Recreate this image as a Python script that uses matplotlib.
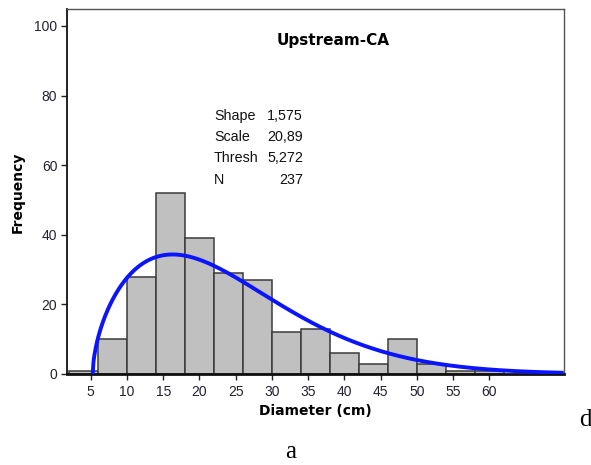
import numpy as np
import matplotlib
matplotlib.use("Agg")
import matplotlib.pyplot as plt

# Histogram data (bin edges in cm, counts)
bin_edges = [2, 6, 10, 14, 18, 22, 26, 30, 34, 38, 42, 46, 50, 54, 58, 62]
counts = [1, 10, 28, 52, 39, 29, 27, 12, 13, 6, 3, 10, 3, 1, 1]

# Fitted 3-parameter Weibull (as printed on the chart)
shape = 1.575
scale = 20.89
thresh = 5.272
n_obs = 237

xticks = [5, 10, 15, 20, 25, 30, 35, 40, 45, 50, 55, 60]
yticks = [0, 20, 40, 60, 80, 100]

fig = plt.figure(figsize=(5.91, 4.65), dpi=100)
ax = fig.add_axes([0.1134, 0.1957, 0.8404, 0.786])

edges = np.array(bin_edges, dtype=float)
widths = np.diff(edges)
ax.bar(edges[:-1], counts, width=widths, align='edge', color='#c0c0c0',
       edgecolor='#3a3a3a', linewidth=1.1, zorder=2)

xmin, xmax = 1.73, 70.26
bw = widths[0]
xs = np.linspace(thresh, xmax, 600)
z = (xs - thresh) / scale
pdf = (shape / scale) * z ** (shape - 1) * np.exp(-z ** shape)
ax.plot(xs, pdf * n_obs * bw, color='#0a14ff', linewidth=2.8, zorder=3,
        solid_capstyle='butt')

ax.set_xlim(xmin, xmax)
ax.set_ylim(0, 105)
ax.set_xticks(xticks)
ax.set_yticks(yticks)
tick_font = dict(family='Liberation Sans', size=10)
ax.set_xticklabels([str(t) for t in xticks], fontdict=tick_font, color='#222233')
ax.set_yticklabels([str(t) for t in yticks], fontdict=tick_font, color='#222233')
ax.tick_params(axis='both', direction='out', length=4, width=1, color='#222222', pad=3)
ax.tick_params(axis='x', pad=4)

for s in ['top', 'right']:
    ax.spines[s].set_color('#555555')
    ax.spines[s].set_linewidth(1.0)
ax.spines['left'].set_color('#111111')
ax.spines['left'].set_linewidth(1.3)
ax.spines['bottom'].set_color('#111111')
ax.spines['bottom'].set_linewidth(2.0)

# Labels
fig.text(315 / 591, 1 - 411 / 465, 'Diameter (cm)', ha='center', va='center',
         fontsize=10, fontweight='bold', family='DejaVu Sans')
fig.text(18 / 591, 1 - 192 / 465, 'Frequency', ha='center', va='center',
         rotation=90, fontsize=10, fontweight='bold', family='DejaVu Sans')
fig.text(333 / 591, 1 - 40 / 465, 'Upstream-CA', ha='center', va='center',
         fontsize=11, fontweight='bold', family='DejaVu Sans')

# Stats box
labels = ['Shape', 'Scale', 'Thresh', 'N']
values = ['1,575', '20,89', '5,272', '237']
rows_y = [116, 137, 158, 180]
for lab, val, yy in zip(labels, values, rows_y):
    fig.text(214 / 591, 1 - yy / 465, lab, ha='left', va='center',
             fontsize=10.3, family='Liberation Sans', color='#111111')
    fig.text(303 / 591, 1 - yy / 465, val, ha='right', va='center',
             fontsize=10.3, family='Liberation Sans', color='#111111')

fig.text(291 / 591, 1 - 452 / 465, 'a', ha='center', va='center',
         fontsize=18, family='Liberation Serif')
fig.text(585 / 591, 1 - 420 / 465, 'd', ha='center', va='center',
         fontsize=18, family='Liberation Serif')

fig.savefig('out.png', dpi=100)
